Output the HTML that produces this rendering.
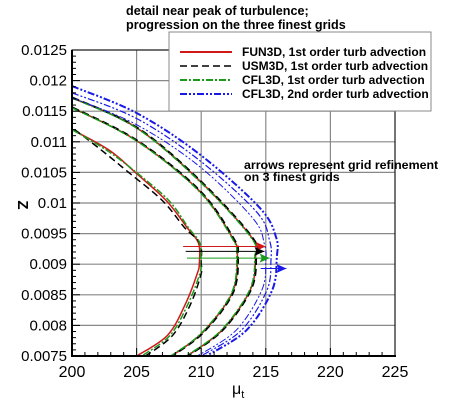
<!DOCTYPE html>
<html><head><meta charset="utf-8"><style>
body{margin:0;background:#fff;}
svg text{font-family:"Liberation Sans",Arial,sans-serif;}
</style></head><body>
<svg id="c" width="450" height="401" xmlns="http://www.w3.org/2000/svg">
<g id="grid"></g><g id="series"></g><g id="axes"></g>
<text x="126" y="15" font-size="12.6" font-weight="bold">detail near peak of turbulence;</text>
<text x="126" y="29" font-size="12.6" font-weight="bold">progression on the three finest grids</text>
<text x="244" y="169" font-size="12.4" font-weight="bold">arrows represent grid refinement</text>
<text x="244" y="181" font-size="12.4" font-weight="bold">on 3 finest grids</text>
<text transform="translate(18,205) rotate(90)" font-size="15" font-weight="bold" text-anchor="middle">Z</text>
<text x="232" y="394" font-size="16">μ<tspan font-size="11" dy="4">t</tspan></text>
<g>
<rect x="169" y="32" width="262" height="79" fill="#fff" stroke="#888" stroke-width="1"/>
<g id="legend"></g>
</g>
</svg>
<script>
const X0=72,X1=395,Y0=356,Y1=50;
const xMin=200,xMax=225,yMin=0.0075,yMax=0.0125;
const sx=v=>X0+(v-xMin)/(xMax-xMin)*(X1-X0);
const sy=v=>Y0-(v-yMin)/(yMax-yMin)*(Y0-Y1);
const xTicks=[200,205,210,215,220,225];
const yTicks=[0.0075,0.008,0.0085,0.009,0.0095,0.01,0.0105,0.011,0.0115,0.012,0.0125];
const yTickLabels=["0.0075","0.008","0.0085","0.009","0.0095","0.01","0.0105","0.011","0.0115","0.012","0.0125"];
const zInner=[0.0112,0.01086,0.01048,0.01004,0.0096,0.00934,0.00901,0.00885,0.00836,0.00784,0.0075];
const muRedInner=[200,202.9,205,207.3,208.9,209.8,209.85,209.7,208.8,207.4,205];
const muBlackInner=[200.2,202.3,204.5,207.0,208.7,209.9,210.0,210.0,209.2,207.8,205.7];
const muGreenInner=[200,202.7,205.1,207.5,209.0,209.9,209.95,209.9,209.0,207.6,205.4];
const zMid=[0.01156,0.01102,0.0102,0.00944,0.00915,0.00853,0.00788,0.0075];
const muMid=[200,205,209.85,212.4,212.8,212.4,210.1,207.7];
const zOuter=[0.01172,0.01123,0.01037,0.00944,0.00911,0.00858,0.00792,0.0075];
const muOuter=[200,205,209.85,213.9,214.2,213.8,211.6,208.9];
const zBlueOuter=[0.01191,0.01147,0.0108,0.00993,0.00944,0.00911,0.00858,0.00792,0.0075];
const muBlueOuter=[200,205,209.85,214.5,215.8,215.85,215.5,213.5,210.4];
const zBlueMid=[0.0118,0.01138,0.0107,0.00985,0.00938,0.00908,0.00858,0.00792,0.0075];
const muBlueMid=[200,205,209.85,214.3,215.3,215.4,215.1,213.1,210.0];
const zBlueIn=[0.01172,0.01128,0.0106,0.00975,0.00932,0.00905,0.00858,0.00792,0.0075];
const muBlueIn=[200,205,209.85,214.0,214.9,215.0,214.7,212.7,209.7];
const arrowZ=[0.00929,0.00921,0.0091,0.00893];
const arrowFrom=[208.6,208.8,208.9,214.6];
const arrowTo=[215,214.9,215.3,216.6];
const colors={red:"#d01818",black:"#000",green:"#1a9a1a",blue:"#1818e8"};
const dashes={red:"",black:"7,4",green:"7,2,2,2",blue:"7,2,2,2,2,2"};
const NS="http://www.w3.org/2000/svg";
function mk(tag,attrs,parent){const e=document.createElementNS(NS,tag);for(const k in attrs)e.setAttribute(k,attrs[k]);parent.appendChild(e);return e;}
const G=document.getElementById('grid'),S=document.getElementById('series'),A=document.getElementById('axes');
xTicks.forEach(v=>{const l=mk('line',{x1:sx(v),x2:sx(v),y1:Y1,y2:Y0,stroke:'#888','stroke-width':1.2},G);

});
yTicks.forEach(v=>{const l=mk('line',{x1:X0,x2:X1,y1:sy(v),y2:sy(v),stroke:'#888','stroke-width':1.2},G);

});
function smooth(pts){let d='M'+pts[0][0].toFixed(1)+','+pts[0][1].toFixed(1);
for(let i=0;i<pts.length-1;i++){const p0=pts[Math.max(0,i-1)],p1=pts[i],p2=pts[i+1],p3=pts[Math.min(pts.length-1,i+2)];
const c1=[p1[0]+(p2[0]-p0[0])/6,p1[1]+(p2[1]-p0[1])/6],c2=[p2[0]-(p3[0]-p1[0])/6,p2[1]-(p3[1]-p1[1])/6];
d+='C'+c1.map(v=>v.toFixed(1)).join(',')+' '+c2.map(v=>v.toFixed(1)).join(',')+' '+p2.map(v=>v.toFixed(1)).join(',');}
return d;}
function curve(zs,mus,col,name,w){const pts=zs.map((z,i)=>[sx(mus[i]),sy(z)]);
const p=mk('path',{d:smooth(pts),fill:'none',stroke:colors[col],'stroke-width':w||1.5,'stroke-dasharray':dashes[col]},S);

}
const clip=mk('clipPath',{id:'cp'},mk('defs',{},S));mk('rect',{x:X0,y:Y1,width:X1-X0,height:Y0-Y1},clip);S.setAttribute('clip-path','url(#cp)');
curve(zInner,muRedInner,'red','fun3d-grid1');
curve(zInner,muBlackInner,'black','usm3d-grid1');
curve(zInner,muGreenInner,'green','cfl3d-1st-grid1');
curve(zMid,muMid,'red','fun3d-grid2');
curve(zMid,muMid.map(v=>v+0.05),'black','usm3d-grid2',2);
curve(zMid,muMid.map(v=>v-0.05),'green','cfl3d-1st-grid2');
curve(zOuter,muOuter,'red','fun3d-grid3');
curve(zOuter,muOuter.map(v=>v+0.05),'black','usm3d-grid3',2);
curve(zOuter,muOuter.map(v=>v-0.05),'green','cfl3d-1st-grid3');
curve(zBlueIn,muBlueIn,'blue','cfl3d-2nd-grid1',1);
curve(zBlueMid,muBlueMid,'blue','cfl3d-2nd-grid2',1.2);
curve(zBlueOuter,muBlueOuter,'blue','cfl3d-2nd-grid3',2);
['red','black','green','blue'].forEach((c,i)=>{const y=sy(arrowZ[i]),x0=sx(arrowFrom[i]),x1=sx(arrowTo[i]);
const l=mk('line',{x1:x0,x2:x1,y1:y,y2:y,stroke:colors[c],'stroke-width':1},S);


const h=mk('polygon',{points:`${x1},${y} ${x1-10},${y-4.5} ${x1-8},${y} ${x1-10},${y+4.5}`,fill:colors[c]},S);

});
mk('rect',{x:X0,y:Y1,width:X1-X0,height:Y0-Y1,fill:'none',stroke:'#000','stroke-width':1},A);
mk('line',{x1:X0,x2:X0,y1:Y1,y2:Y0+1,stroke:'#000','stroke-width':2},A);
mk('line',{x1:X0-1,x2:X1+1,y1:Y0,y2:Y0,stroke:'#000','stroke-width':2},A);
for(let v=xMin;v<=xMax;v++){const major=v%5===0;mk('line',{x1:sx(v),x2:sx(v),y1:Y0,y2:Y0-(major?8:4),stroke:'#000','stroke-width':1},A);}
for(let k=0;k<=50;k++){const v=yMin+k*0.0001;const major=k%5===0;mk('line',{x1:X0,x2:X0+(major?8:4),y1:sy(v),y2:sy(v),stroke:'#000','stroke-width':1},A);}
xTicks.forEach(v=>{const t=mk('text',{x:sx(v),y:377,'font-size':16,'text-anchor':'middle'},A);t.textContent=v;

});
yTicks.forEach((v,i)=>{const t=mk('text',{x:67,y:sy(v)+5,'font-size':15,'text-anchor':'end'},A);t.textContent=yTickLabels[i];

});
const legendLabels=["FUN3D, 1st order turb advection","USM3D, 1st order turb advection","CFL3D, 1st order turb advection","CFL3D, 2nd order turb advection"];
const L=document.getElementById('legend');
['red','black','green','blue'].forEach((c,i)=>{const y=52+i*14;
const l=mk('line',{x1:180,x2:232,y1:y,y2:y,stroke:colors[c],'stroke-width':c==='black'?1.5:2,'stroke-dasharray':dashes[c]},L);


const t=mk('text',{x:242,y:y+4,'font-size':12,'font-weight':'bold'},L);t.textContent=legendLabels[i];

});
</script>
</body></html>
